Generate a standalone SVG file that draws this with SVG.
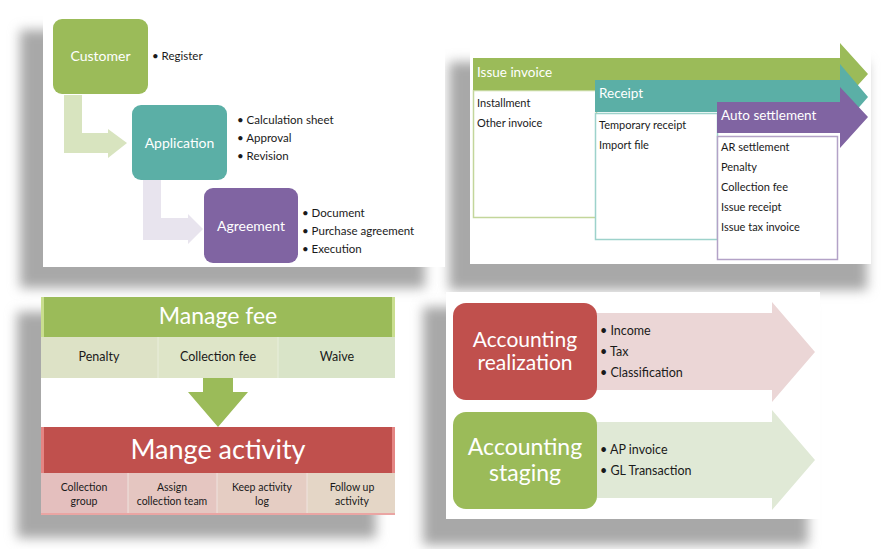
<svg xmlns="http://www.w3.org/2000/svg" width="886" height="549" viewBox="0 0 886 549">
<defs>
<filter id="blur" x="-20%" y="-20%" width="140%" height="140%"><feGaussianBlur stdDeviation="6"/></filter>
<style>
text{font-family:Lato,"Open Sans","Liberation Sans",sans-serif;}
.node{font-size:14px;text-anchor:middle;fill:#fff;}
.bul{font-size:11.5px;fill:#1a1a1a;}
.sm{font-size:11px;fill:#1a1a1a;}
.bar{font-size:13.5px;fill:#fff;}
.cell{font-size:12.5px;fill:#1a1a1a;text-anchor:middle;}
.cell2{font-size:10.5px;fill:#1a1a1a;text-anchor:middle;}
.big{fill:#fff;text-anchor:middle;}
.acc{font-size:12.5px;fill:#1a1a1a;}
.shadow{fill:#a8a8a8;filter:url(#blur);}
</style>
</defs>
<rect width="886" height="549" fill="#fff"/>

<g id="shadows">
<rect class="shadow" x="20" y="30" width="405" height="258"/>
<rect class="shadow" x="449" y="62" width="418" height="228"/>
<rect class="shadow" x="17" y="312" width="359" height="226"/>
<rect class="shadow" x="423" y="307" width="385" height="238"/>
</g>

<g id="panels">
<rect x="43" y="15" width="402" height="252" fill="#fff"/>
<rect x="470" y="38" width="401" height="226" fill="#fff"/>
<rect x="41" y="297" width="354" height="218" fill="#fff"/>
<rect x="446" y="292" width="374" height="227" fill="#fff"/>
</g>

<g id="connectors">
<path d="M64,95 H82 V133 H108 V129 L127,143 L108,158 V153 H64 Z" fill="#D8E4BF"/>
<path d="M143,180 H161 V218 H188 V214 L203,229 L188,244 V240 H143 Z" fill="#E8E4EE"/>
<path d="M203,378 H233 V392 H248 L218,427 L188,392 H203 Z" fill="#9BBB59"/>
</g>

<g id="customer">
<rect x="53" y="19" width="95" height="75" rx="9" fill="#9BBB59"/>
<text class="node" x="100.5" y="61">Customer</text>
<text class="bul" x="152" y="60">•  Register</text>
</g>

<g id="application">
<rect x="132" y="105" width="95" height="75" rx="9" fill="#5BAFA6"/>
<text class="node" x="179.5" y="148">Application</text>
<text class="bul" x="237" y="124">•  Calculation sheet</text>
<text class="bul" x="237" y="142">•  Approval</text>
<text class="bul" x="237" y="160">•  Revision</text>
</g>

<g id="agreement">
<rect x="204" y="188" width="94" height="75" rx="9" fill="#8064A2"/>
<text class="node" x="251" y="231">Agreement</text>
<text class="bul" x="302" y="217">•  Document</text>
<text class="bul" x="302" y="235">•  Purchase agreement</text>
<text class="bul" x="302" y="253">•  Execution</text>
</g>

<g id="issue-invoice">
<rect x="473.5" y="90.5" width="123" height="127" fill="#fff" stroke="#C3D69B" stroke-width="1.5"/>
<path d="M473,58 H840 V43 L868,74 L840,105 V90 H473 Z" fill="#9BBB59"/>
<text class="bar" x="477" y="77">Issue invoice</text>
<text class="sm" x="477" y="107">Installment</text>
<text class="sm" x="477" y="127">Other invoice</text>
</g>

<g id="receipt">
<rect x="595.5" y="113.5" width="122" height="126" fill="#fff" stroke="#9DD2CB" stroke-width="1.5"/>
<path d="M595,80 H840 V64 L868,97 L840,129 V112 H595 Z" fill="#5BAFA6"/>
<text class="bar" x="599" y="98">Receipt</text>
<text class="sm" x="599" y="129">Temporary receipt</text>
<text class="sm" x="599" y="149">Import file</text>
</g>

<g id="auto-settlement">
<rect x="717.5" y="136.5" width="120" height="123" fill="#fff" stroke="#B3A2C7" stroke-width="1.5"/>
<path d="M717,102 H840 V87 L868,117 L840,148 V133 H717 Z" fill="#8064A2"/>
<text class="bar" x="721" y="120">Auto settlement</text>
<text class="sm" x="721" y="151">AR settlement</text>
<text class="sm" x="721" y="171">Penalty</text>
<text class="sm" x="721" y="191">Collection fee</text>
<text class="sm" x="721" y="211">Issue receipt</text>
<text class="sm" x="721" y="231">Issue tax invoice</text>
</g>

<g id="manage-fee">
<rect x="41" y="297" width="354" height="40" fill="#9BBB59"/>
<rect x="41" y="297" width="3" height="40" fill="#C9DE8F"/>
<rect x="392" y="297" width="3" height="40" fill="#C9DE8F"/>
<text class="big" x="218" y="324" font-size="23">Manage fee</text>
<rect x="41" y="337" width="117" height="41" fill="#DDE2C6"/>
<rect x="158" y="337" width="120" height="41" fill="#DEE5C8"/>
<rect x="278" y="337" width="117" height="41" fill="#D9E4C8"/>
<path d="M158,337 V378 M278,337 V378" stroke="#E9EEDC" stroke-width="1"/>
<text class="cell" x="99" y="361">Penalty</text>
<text class="cell" x="218" y="361">Collection fee</text>
<text class="cell" x="337" y="361">Waive</text>
</g>

<g id="manage-activity">
<rect x="41" y="427" width="354" height="46" fill="#C0504D"/>
<rect x="41" y="427" width="3" height="46" fill="#E48583"/>
<rect x="392" y="427" width="3" height="46" fill="#E48583"/>
<text class="big" x="218" y="459" font-size="27">Mange activity</text>
<rect x="41" y="473" width="87" height="42" fill="#E4BFBE"/>
<rect x="128" y="473" width="89" height="42" fill="#E5C6C1"/>
<rect x="217" y="473" width="90" height="42" fill="#E5CDC3"/>
<rect x="307" y="473" width="88" height="42" fill="#E4D6C6"/>
<path d="M128,473 V515 M217,473 V515 M307,473 V515" stroke="#EFE3DF" stroke-width="1"/>
<rect x="41" y="513" width="354" height="2" fill="#EAA5A3"/>
<text class="cell2" x="84" y="491">Collection</text>
<text class="cell2" x="84" y="505">group</text>
<text class="cell2" x="172" y="491">Assign</text>
<text class="cell2" x="172" y="505">collection team</text>
<text class="cell2" x="262" y="491">Keep activity</text>
<text class="cell2" x="262" y="505">log</text>
<text class="cell2" x="352" y="491">Follow up</text>
<text class="cell2" x="352" y="505">activity</text>
</g>

<g id="accounting-realization">
<path d="M590,313 H772 V302 L815,352 L772,402 V390 H590 Z" fill="#EBD6D6"/>
<rect x="453" y="303" width="144" height="97" rx="13" fill="#C0504D"/>
<text class="big" x="525" y="347" font-size="21">Accounting</text>
<text class="big" x="525" y="370" font-size="21">realization</text>
<text class="acc" x="600" y="334.5">•  Income</text>
<text class="acc" x="600" y="355.5">•  Tax</text>
<text class="acc" x="600" y="376.5">•  Classification</text>
</g>

<g id="accounting-staging">
<path d="M590,422 H772 V410 L815,460 L772,510 V498 H590 Z" fill="#E0E9D6"/>
<rect x="453" y="412" width="144" height="97" rx="13" fill="#9BBB59"/>
<text class="big" x="525" y="455" font-size="23">Accounting</text>
<text class="big" x="525" y="481" font-size="23">staging</text>
<text class="acc" x="600" y="454">•  AP invoice</text>
<text class="acc" x="600" y="475">•  GL Transaction</text>
</g>
</svg>
